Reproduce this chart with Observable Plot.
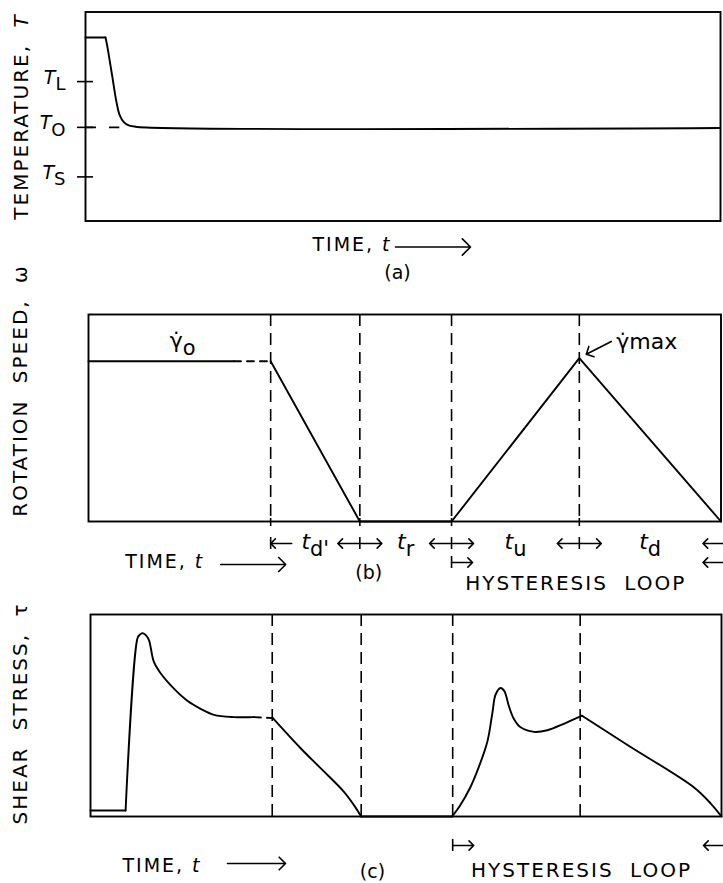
<!DOCTYPE html>
<html>
<head>
<meta charset="utf-8">
<script src="https://cdn.jsdelivr.net/npm/d3@7"></script>
<script src="https://cdn.jsdelivr.net/npm/@observablehq/plot@0.6"></script>
<style>
  body { margin: 0; background: #fff; }
  #fig { position: relative; width: 723px; height: 883px; background: #fff; }
  #fig svg { position: absolute; left: 0; }
</style>
</head>
<body>
<div id="fig"></div>
<script>
// ---------- Panel (a): temperature vs time ----------
const tempTime  = [0, 3.15, 3.42, 4.20, 4.88, 5.40, 6.03, 6.82, 8.14, 100];
const tempValue = [87.8, 87.8, 83.8, 69.5, 56.9, 50.5, 47.3, 45.7, 45.0, 44.5];
const tempCorners = [3.15];
const tempTickValues = [66.7, 44.8, 21.1];
const tempTickSubs = ["L", "O", "S"];
const tempRefIndex = 5; // the dashed T0 reference runs until this sample

// ---------- Panel (b): rotation speed vs time ----------
const phaseBounds = [28.8, 42.9, 57.4, 77.6];
const phaseSubs = ["d'", "r", "u", "d"];
const speedTime  = [0, 23, 28.8, 42.9, 57.4, 77.6, 100];
const speedValue = [77.4, 77.4, 77.4, 0, 0, 78.9, 0];
const speedDashedSpan = [23, 28.8];

// ---------- Panel (c): shear stress vs time ----------
const stressTime = [0, 5.56, 7.46, 7.78, 8.21, 8.73, 9.25, 10.05, 11.11, 13.22, 15.35, 17.46, 19.57, 22.7, 25.9,
  28.9, 33.3, 36.5, 40.2, 41.8, 42.9, 57.3, 58.6, 60.2, 61.5, 62.9, 63.7, 64.2, 65.0, 65.6, 66.3, 67.1, 68.1,
  70.3, 72.4, 75.0, 77.9, 85.1, 95.6, 98.3, 100];
const stressValue = [3.0, 3.0, 88.4, 89.9, 90.8, 89.9, 87.4, 76.5, 70.9, 63.3, 57.3, 53.3, 50.3, 49.2, 49.2,
  48.7, 33.8, 23.8, 12.1, 5.4, 0, 0, 5.6, 14.5, 24.2, 37.1, 51.5, 60.4, 63.6, 62.0, 54.7, 48.3, 44.3,
  41.9, 42.7, 45.9, 49.9, 35.4, 14.5, 6.4, 0];
const stressCorners = [5.56, 25.9, 28.9, 42.9, 57.3, 77.9];
const stressDashedSpan = [25.9, 28.9];

// ---------- text labels ----------
const yLabels = ["TEMPERATURE, *T*", "ROTATION SPEED, ω", "SHEAR STRESS, τ"];
const timeLabel = "TIME, *t*";
const panelTags = ["(a)", "(b)", "(c)"];
const loopLabel = "HYSTERESIS LOOP";
const gammaLabels = ["γ̇_o_", "γ̇max"];

const toRows = (T, V) => T.map((t, i) => ({t, v: V[i]}));
const tempRows = toRows(tempTime, tempValue);
const speedRows = toRows(speedTime, speedValue);
const stressRows = toRows(stressTime, stressValue);
const phaseEdges = [...phaseBounds, 100];
const phaseMid = phaseBounds.map((b, i) => (b + phaseEdges[i + 1]) / 2);
const xEnd = phaseEdges[phaseEdges.length - 1];

const baseStyle = {fontFamily: "DejaVu Sans", color: "black", background: "transparent", overflow: "visible"};
const LW = 1.9;
const DASH = "12,7";

// split a series into pieces at given corner times (corners shared by neighbours)
function pieces(rows, cuts) {
  const edges = [rows[0].t, ...cuts, rows[rows.length - 1].t];
  const out = [];
  for (let i = 0; i < edges.length - 1; i++) {
    out.push({from: edges[i], to: edges[i + 1], rows: rows.filter(d => d.t >= edges[i] && d.t <= edges[i + 1])});
  }
  return out;
}
function pieceMarks(rows, cuts, dashed, curve) {
  return pieces(rows, cuts).map(p => {
    const isDashed = dashed && p.from >= dashed[0] && p.to <= dashed[1];
    return Plot.line(p.rows, {x: "t", y: "v", strokeWidth: LW, curve,
      strokeDasharray: isDashed ? "7,6" : null});
  });
}

// rich text: *x* italic, _x_ subscript
function richText(svg) {
  d3.select(svg).selectAll("text").each(function () {
    const el = this;
    const s = el.textContent;
    if (/[A-Z]{2}/.test(s)) {
      el.style.letterSpacing = "2px";
      if (s.length > 10) el.style.wordSpacing = "8px";
    }
    if (!/[*_]/.test(s)) return;
    const parts = s.split(/(\*[^*]+\*|_[^_]+_)/).filter(p => p);
    el.textContent = "";
    let shifted = false;
    for (const p of parts) {
      const ts = d3.select(el).append("tspan");
      if (p.startsWith("_")) {
        ts.text(p.slice(1, -1)).attr("font-size", "0.95em").attr("dy", "0.34em");
        shifted = true;
      } else {
        if (p.startsWith("*")) ts.text(p.slice(1, -1)).attr("font-style", "italic");
        else ts.text(p);
        if (shifted) { ts.attr("dy", "-0.32em"); shifted = false; }
      }
    }
  });
}

function place(svg, top) {
  richText(svg);
  svg.style.top = top + "px";
  document.getElementById("fig").appendChild(svg);
}

const below = (opts) => ({frameAnchor: "bottom", lineAnchor: "middle", ...opts});
// small arrows under the axis (vectors anchored at the frame bottom)
const smallArrow = {frameAnchor: "bottom", length: 21, r: 3.9, shape: "arrow", strokeWidth: 1.6};
const longArrow = {frameAnchor: "bottom", anchor: "middle", rotate: 90, r: 1.9, shape: "arrow", strokeWidth: 1.6};
// short bar under the axis: from (bottom + top) to (bottom + bot) pixels
const bar = (data, top, bot) => Plot.ruleX(data, {x: d => d, y1: 0, y2: 0, insetTop: top, insetBottom: -bot, strokeWidth: 1.6});

// ===== Panel (a) =====
const plotA = Plot.plot({
  width: 723, height: 300,
  marginLeft: 85, marginRight: 3, marginTop: 11.5, marginBottom: 79.5,
  x: {domain: [0, 100], axis: null},
  y: {domain: [0, 100], axis: null},
  style: baseStyle,
  marks: [
    Plot.frame({strokeWidth: LW}),
    Plot.ruleY([tempTickValues[1]], {x1: tempTime[0], x2: tempTime[tempRefIndex], strokeDasharray: "11,13", strokeWidth: 1.6}),
    ...pieceMarks(tempRows, tempCorners, null, "catmull-rom"),
    Plot.ruleY(tempTickValues, {y: d => d, x1: 0, x2: 0, insetLeft: -8, insetRight: -8, strokeWidth: 1.6}),
    Plot.text(tempTickSubs, {y: (d, i) => tempTickValues[i], frameAnchor: "left", text: d => `*T*_${d}_`,
      textAnchor: "end", dx: -20, dy: -4, fontSize: 19}),
    Plot.text([yLabels[0]], {frameAnchor: "left", textAnchor: "middle", text: d => d, rotate: -90, dx: -64, dy: 0, fontSize: 20}),
    Plot.text([timeLabel], below({text: d => d, dx: -51, dy: 24, fontSize: 19})),
    Plot.vector([timeLabel], {...longArrow, length: 75, dx: 30, dy: 26}),
    Plot.text([panelTags[0]], below({text: d => d, dx: -5.5, dy: 51.5, fontSize: 19}))
  ]
});
place(plotA, 0);

// ===== Panel (b) =====
const peakIdx = speedValue.indexOf(d3.max(speedValue));
const plotB = Plot.plot({
  width: 723, height: 360,
  marginLeft: 88, marginRight: 2.5, marginTop: 74, marginBottom: 79,
  x: {domain: [0, 100], axis: null},
  y: {domain: [0, 100], axis: null},
  style: baseStyle,
  marks: [
    Plot.frame({strokeWidth: LW}),
    Plot.ruleX(phaseBounds, {x: d => d, strokeDasharray: DASH, strokeWidth: 1.6}),
    bar(phaseBounds, -3, 5),
    ...pieceMarks(speedRows, speedDashedSpan, speedDashedSpan, "linear"),
    Plot.text([gammaLabels[0]], {x: () => phaseBounds[0] / 2, y: () => speedValue[0], text: d => d, dx: 3, dy: -20, fontSize: 22}),
    Plot.text([gammaLabels[1]], {x: () => speedTime[peakIdx], y: () => speedValue[peakIdx], text: d => d, textAnchor: "start", dx: 37, dy: -16, fontSize: 22}),
    Plot.vector([peakIdx], {x: i => speedTime[i], y: i => speedValue[i], anchor: "end", rotate: 243, length: 28,
      r: 3.6, shape: "arrow", strokeWidth: 1.6, dx: 7, dy: -4}),
    // interval markers row
    bar(phaseBounds, 16, 28),
    Plot.vector([phaseBounds[0]], {...smallArrow, x: d => d, anchor: "end", rotate: -90, dy: 22}),
    Plot.vector(phaseBounds.slice(1), {...smallArrow, x: d => d, anchor: "start", rotate: -90, dx: -1, dy: 22}),
    Plot.vector(phaseBounds.slice(1), {...smallArrow, x: d => d, anchor: "start", rotate: 90, dx: 1, dy: 22}),
    Plot.vector([xEnd], {...smallArrow, x: d => d, anchor: "start", rotate: -90, dx: 3, dy: 22}),
    Plot.text(phaseMid, below({x: d => d, text: (d, i) => `*t*_${phaseSubs[i]}_`, dy: 20, fontSize: 22})),
    // hysteresis loop markers
    bar([phaseBounds[2]], 35, 47),
    Plot.vector([phaseBounds[2]], {...smallArrow, x: d => d, anchor: "start", rotate: 90, dy: 41}),
    Plot.vector([xEnd], {...smallArrow, x: d => d, anchor: "start", rotate: -90, dx: 3, dy: 41}),
    Plot.text([yLabels[1]], {frameAnchor: "left", textAnchor: "middle", text: d => d, rotate: -90, dx: -68, dy: -27.5, fontSize: 20}),
    Plot.text([timeLabel], below({text: d => d, dx: -240, dy: 40, fontSize: 19})),
    Plot.vector([timeLabel], {...longArrow, length: 65, dx: -151.5, dy: 43}),
    Plot.text([panelTags[1]], below({text: d => d, dx: -36, dy: 51, fontSize: 19})),
    Plot.text([loopLabel], below({text: d => d, dx: 171, dy: 62, fontSize: 20}))
  ]
});
place(plotB, 240);

// ===== Panel (c) =====
const plotC = Plot.plot({
  width: 723, height: 293,
  marginLeft: 90, marginRight: 2, marginTop: 24, marginBottom: 67,
  x: {domain: [0, 100], axis: null},
  y: {domain: [0, 100], axis: null},
  style: baseStyle,
  marks: [
    Plot.frame({strokeWidth: LW}),
    Plot.ruleX(phaseBounds, {x: d => d, strokeDasharray: DASH, strokeWidth: 1.6}),
    ...pieceMarks(stressRows, stressCorners, stressDashedSpan, "catmull-rom"),
    bar([phaseBounds[2]], 23, 35),
    Plot.vector([phaseBounds[2]], {...smallArrow, x: d => d, anchor: "start", rotate: 90, dy: 29}),
    Plot.vector([xEnd], {...smallArrow, x: d => d, anchor: "start", rotate: -90, dx: 3, dy: 29}),
    Plot.text([yLabels[2]], {frameAnchor: "left", textAnchor: "middle", text: d => d, rotate: -90, dx: -69.5, dy: -2, fontSize: 20}),
    Plot.text([timeLabel], below({text: d => d, dx: -244, dy: 49, fontSize: 19})),
    Plot.vector([timeLabel], {...longArrow, length: 58, dx: -149.5, dy: 47}),
    Plot.text([panelTags[2]], below({text: d => d, dx: -33.5, dy: 55, fontSize: 19})),
    Plot.text([loopLabel], below({text: d => d, dx: 175.5, dy: 54, fontSize: 20}))
  ]
});
place(plotC, 590);
</script>
</body>
</html>
